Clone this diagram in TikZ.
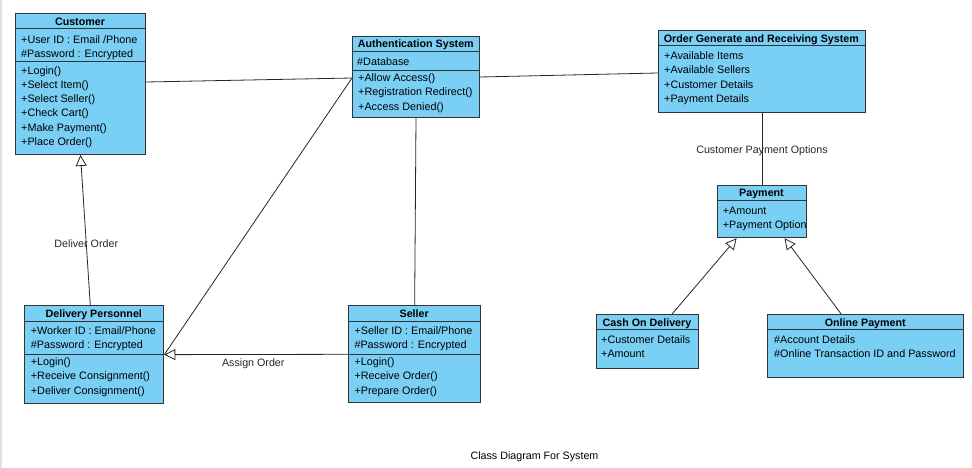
\documentclass[tikz,border=0pt]{standalone}
\usepackage{fontspec}
\setmainfont{Liberation Sans}
\usetikzlibrary{arrows.meta, calc}
\definecolor{umlblue}{RGB}{122,207,245}
\tikzset{
    classbox/.style={draw=black!80, fill=umlblue, line width=1pt, anchor=north west, inner sep=0pt},
    classname/.style={font=\bfseries\fontsize{10.7}{13}\selectfont, inner sep=0pt, anchor=base},
    members/.style={font=\fontsize{10.8}{14.3}\selectfont, align=left, inner sep=0pt, anchor=north west},
    sep/.style={black!80, line width=1pt},
    assoc/.style={black!85, line width=0.8pt},
    inherit/.style={assoc, -{Triangle[open, fill=white, length=11pt, width=11pt]}},
    edgelabel/.style={font=\fontsize{10.7}{13}\selectfont, inner sep=1pt}
}

\begin{document}
\begin{tikzpicture}[x=1pt, y=-1pt]
    \useasboundingbox (0,0) rectangle (972,468);
    \draw[black!12, line width=1.5pt] (1,0) -- (1,468);
    % Customer
    \node[classbox, minimum width=130pt, minimum height=141pt] (cust) at (15,13) {};
    \draw[sep] (cust.west |- 0,29) -- (cust.east |- 0,29);
    \draw[sep] (cust.west |- 0,62) -- (cust.east |- 0,62);
    \node[classname] (cust-n) at (80,26) {Customer};
    \node[members] (cust-a) at (21,35) {+User ID : Email /Phone\\\#Password : Encrypted};
    \node[members] (cust-o) at (21,66) {+Login()\\+Select Item()\\+Select Seller()\\+Check Cart()\\+Make Payment()\\+Place Order()};
    % Authentication System
    \node[classbox, minimum width=127pt, minimum height=81pt] (auth) at (352,36) {};
    \draw[sep] (auth.west |- 0,51.7) -- (auth.east |- 0,51.7);
    \draw[sep] (auth.west |- 0,70.3) -- (auth.east |- 0,70.3);
    \node[classname] (auth-n) at (415.8,48) {Authentication System};
    \node[members] (auth-a) at (357,57.5) {\#Database};
    \node[members] (auth-o) at (358,73.5) {+Allow Access()\\+Registration Redirect()\\+Access Denied()};
    % Order Generate and Receiving System
    \node[classbox, minimum width=207pt, minimum height=82pt] (order) at (658,30.3) {};
    \draw[sep] (order.west |- 0,46) -- (order.east |- 0,46);
    \node[classname] (order-n) at (761.3,42.5) {Order Generate and Receiving System};
    \node[members] (order-a) at (664,51.5) {+Available Items\\+Available Sellers\\+Customer Details\\+Payment Details};
    % Payment
    \node[classbox, minimum width=89.6pt, minimum height=52.6pt] (pay) at (716.7,184.7) {};
    \draw[sep] (pay.west |- 0,200.7) -- (pay.east |- 0,200.7);
    \node[classname] (pay-n) at (761.5,196.8) {Payment};
    \node[members] (pay-a) at (722.7,206.5) {+Amount\\+Payment Option};
    % Cash On Delivery
    \node[classbox, minimum width=102.6pt, minimum height=54pt] (cash) at (595.7,314.3) {};
    \draw[sep] (cash.west |- 0,329.7) -- (cash.east |- 0,329.7);
    \node[classname] (cash-n) at (647,326.5) {Cash On Delivery};
    \node[members] (cash-a) at (601,335.5) {+Customer Details\\+Amount};
    % Online Payment
    \node[classbox, minimum width=196pt, minimum height=62.4pt] (online) at (767.3,314.3) {};
    \draw[sep] (online.west |- 0,329.7) -- (online.east |- 0,329.7);
    \node[classname] (online-n) at (865.3,326.5) {Online Payment};
    \node[members] (online-a) at (774,335.5) {\#Account Details\\\#Online Transaction ID and Password};
    % Delivery Personnel
    \node[classbox, minimum width=139pt, minimum height=97.7pt] (deliv) at (24.3,305.3) {};
    \draw[sep] (deliv.west |- 0,321.7) -- (deliv.east |- 0,321.7);
    \draw[sep] (deliv.west |- 0,354.3) -- (deliv.east |- 0,354.3);
    \node[classname] (deliv-n) at (93.8,317.8) {Delivery Personnel};
    \node[members] (deliv-a) at (30.7,326.5) {+Worker ID : Email/Phone\\\#Password : Encrypted};
    \node[members] (deliv-o) at (30.7,357.5) {+Login()\\+Receive Consignment()\\+Deliver Consignment()};
    % Seller
    \node[classbox, minimum width=131.7pt, minimum height=97pt] (seller) at (348.3,305.3) {};
    \draw[sep] (seller.west |- 0,321.7) -- (seller.east |- 0,321.7);
    \draw[sep] (seller.west |- 0,354.3) -- (seller.east |- 0,354.3);
    \node[classname] (seller-n) at (414.2,317.8) {Seller};
    \node[members] (seller-a) at (354.3,326.5) {+Seller ID : Email/Phone\\\#Password : Encrypted};
    \node[members] (seller-o) at (354.3,357.5) {+Login()\\+Receive Order()\\+Prepare Order()};
    % Associations
    \draw[assoc] (cust.east |- 0,82) -- (auth.west |- 0,78);
    \draw[assoc] (auth.west |- 0,78) -- (deliv.east);
    \draw[assoc] (auth.east) -- (order.west |- 0,73);
    \draw[assoc] (auth.south) -- (seller.north);
    \draw[assoc] (order.south) -- (pay.north)
        node[edgelabel, pos=0.52] (pay-l) {Customer Payment Options};
    % Generalizations
    \draw[inherit] (seller.west) -- (deliv.east)
        node[edgelabel, midway, below=3pt, xshift=-3pt] (assign-l) {Assign Order};
    \draw[inherit] ($(deliv.north)+(-4,0)$) -- (cust.south)
        node[edgelabel, pos=0.41] (deliver-l) {Deliver Order};
    \draw[inherit] ($(cash.north west)!0.735!(cash.north east)$) -- ($(pay.south west)!0.22!(pay.south east)$);
    \draw[inherit] ($(online.north west)!0.376!(online.north east)$) -- ($(pay.south west)!0.75!(pay.south east)$);
    % Caption
    \node[edgelabel] (caption) at (534.5,456.5) {Class Diagram For System};
\end{tikzpicture}
\end{document}
